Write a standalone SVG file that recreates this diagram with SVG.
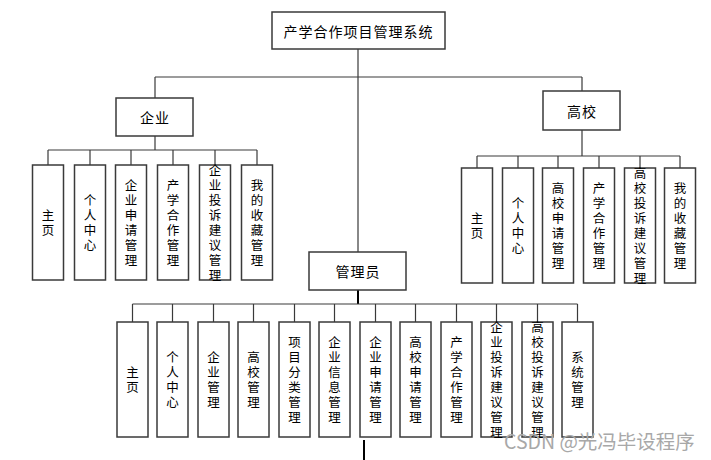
<svg xmlns="http://www.w3.org/2000/svg" width="711" height="460" viewBox="0 0 711 460">
<style>
.b{fill:#fff;stroke:#3a3a3a;stroke-width:1.5}
.t{font-family:"Noto Sans CJK SC","Noto Sans",sans-serif;font-size:14px;fill:#000;text-anchor:middle;dominant-baseline:central;letter-spacing:1px}
.v{font-family:"Noto Sans CJK SC","Noto Sans",sans-serif;font-size:12.5px;fill:#000;text-anchor:middle;writing-mode:vertical-rl;text-orientation:upright;letter-spacing:2.5px}
.c{fill:none;stroke:#3a3a3a;stroke-width:1.2}
.k{fill:none;stroke:#000;stroke-width:2}
.wm{font-family:"Noto Sans CJK SC","Liberation Sans",sans-serif;font-size:19.5px;fill:#a8a8a8}
</style>
<rect width="711" height="460" fill="#fff"/>
<g id="connectors">
<path class="c" d="M358 49V252M155 77H582M155 77V98M582 77V91"/>
<path class="c" d="M155 136V150M48 150H257M48 150V165M90 150V165M131 150V165M173 150V165M215 150V165M257 150V165"/>
<path class="c" d="M582 130V156M477 156H680M477 156V168M518 156V168M558 156V168M599 156V168M640 156V168M680 156V168"/>
<path class="k" d="M358 290V304"/>
<path class="c" d="M132.5 304H577.5M132.5 304V322M172.5 304V322M213.5 304V322M253.5 304V322M294.5 304V322M334.5 304V322M375.5 304V322M415.5 304V322M456.5 304V322M496.5 304V322M537.5 304V322M577.5 304V322"/>
<path class="k" d="M364 440V460"/>
</g>
<g id="root"><rect class="b" x="272" y="12" width="173" height="37"/><text class="t" x="358.5" y="31">产学合作项目管理系统</text></g>
<g id="qiye"><rect class="b" x="116" y="98" width="77" height="38"/><text class="t" x="155" y="117">企业</text></g>
<g id="gaoxiao"><rect class="b" x="543" y="91" width="77" height="39"/><text class="t" x="582" y="110.5">高校</text></g>
<g id="admin"><rect class="b" x="309" y="252" width="97" height="38"/><text class="t" x="358" y="271">管理员</text></g>

<g id="q1"><rect class="b" x="32.5" y="165" width="31" height="115"/><text class="v" x="48" y="223.5">主页</text></g>
<g id="q2"><rect class="b" x="74.5" y="165" width="31" height="115"/><text class="v" x="90" y="223.5">个人中心</text></g>
<g id="q3"><rect class="b" x="115.5" y="165" width="31" height="115"/><text class="v" x="131" y="223.5">企业申请管理</text></g>
<g id="q4"><rect class="b" x="157.5" y="165" width="31" height="115"/><text class="v" x="173" y="223.5">产学合作管理</text></g>
<g id="q5"><rect class="b" x="199.5" y="165" width="31" height="115"/><text class="v" x="215" y="223.5">企业投诉建议管理</text></g>
<g id="q6"><rect class="b" x="241.5" y="165" width="31" height="115"/><text class="v" x="257" y="223.5">我的收藏管理</text></g>

<g id="g1"><rect class="b" x="461.5" y="168" width="31" height="115"/><text class="v" x="477" y="226.5">主页</text></g>
<g id="g2"><rect class="b" x="502.5" y="168" width="31" height="115"/><text class="v" x="518" y="226.5">个人中心</text></g>
<g id="g3"><rect class="b" x="542.5" y="168" width="31" height="115"/><text class="v" x="558" y="226.5">高校申请管理</text></g>
<g id="g4"><rect class="b" x="583.5" y="168" width="31" height="115"/><text class="v" x="599" y="226.5">产学合作管理</text></g>
<g id="g5"><rect class="b" x="624.5" y="168" width="31" height="115"/><text class="v" x="640" y="226.5">高校投诉建议管理</text></g>
<g id="g6"><rect class="b" x="664.5" y="168" width="31" height="115"/><text class="v" x="680" y="226.5">我的收藏管理</text></g>

<g id="a1"><rect class="b" x="117" y="322" width="31" height="115"/><text class="v" x="132.5" y="380.5">主页</text></g>
<g id="a2"><rect class="b" x="157" y="322" width="31" height="115"/><text class="v" x="172.5" y="380.5">个人中心</text></g>
<g id="a3"><rect class="b" x="198" y="322" width="31" height="115"/><text class="v" x="213.5" y="380.5">企业管理</text></g>
<g id="a4"><rect class="b" x="238" y="322" width="31" height="115"/><text class="v" x="253.5" y="380.5">高校管理</text></g>
<g id="a5"><rect class="b" x="279" y="322" width="31" height="115"/><text class="v" x="294.5" y="380.5">项目分类管理</text></g>
<g id="a6"><rect class="b" x="319" y="322" width="31" height="115"/><text class="v" x="334.5" y="380.5">企业信息管理</text></g>
<g id="a7"><rect class="b" x="360" y="322" width="31" height="115"/><text class="v" x="375.5" y="380.5">企业申请管理</text></g>
<g id="a8"><rect class="b" x="400" y="322" width="31" height="115"/><text class="v" x="415.5" y="380.5">高校申请管理</text></g>
<g id="a9"><rect class="b" x="441" y="322" width="31" height="115"/><text class="v" x="456.5" y="380.5">产学合作管理</text></g>
<g id="a10"><rect class="b" x="481" y="322" width="31" height="115"/><text class="v" x="496.5" y="380.5">企业投诉建议管理</text></g>
<g id="a11"><rect class="b" x="522" y="322" width="31" height="115"/><text class="v" x="537.5" y="380.5">高校投诉建议管理</text></g>
<g id="a12"><rect class="b" x="562" y="322" width="31" height="115"/><text class="v" x="577.5" y="380.5">系统管理</text></g>

<text class="wm" x="504" y="449">CSDN @光冯毕设程序</text>
</svg>
